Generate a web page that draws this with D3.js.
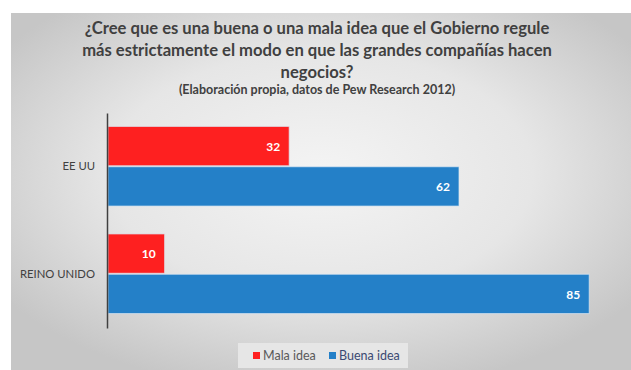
<!DOCTYPE html>
<html><head><meta charset="utf-8">
<script src="https://cdn.jsdelivr.net/npm/d3@7"></script>
<style>html,body{margin:0;padding:0;background:#fff;}svg{display:block;}</style>
</head><body>
<script>
const categories = ["EE UU", "REINO UNIDO"];
const seriesNames = ["Mala idea", "Buena idea"];
const malaIdea = [32, 10];
const buenaIdea = [62, 85];
const titleLines = ["¿Cree que es una buena o una mala idea que el Gobierno regule",
  "más estrictamente el modo en que las grandes compañías hacen", "negocios?"];
const subtitle = "(Elaboración propia, datos de Pew Research 2012)";
const colors = ["#fe2020", "#2480c8"];

const W = 631, H = 370;
const svg = d3.select("body").append("svg").attr("width", W).attr("height", H);
const defs = svg.append("defs");
const rg = defs.append("radialGradient").attr("id", "bg").attr("cx", "50%").attr("cy", "45%").attr("r", "62%");
rg.append("stop").attr("offset", "0%").attr("stop-color", "#f4f4f4");
rg.append("stop").attr("offset", "55%").attr("stop-color", "#e6e6e6");
rg.append("stop").attr("offset", "100%").attr("stop-color", "#c6c6c6");
svg.append("rect").attr("x", 11).attr("y", 13).attr("width", W - 11).attr("height", H - 13).attr("fill", "url(#bg)");

const font = "Lato, 'Open Sans', sans-serif";
const tg = svg.append("g").attr("font-family", font).attr("font-weight", "bold").attr("fill", "#404040").attr("text-anchor", "middle");
titleLines.forEach((t, i) => {
  tg.append("text").attr("x", 317).attr("y", 34 + i * 22).attr("font-size", 16.6).text(t);
});
tg.append("text").attr("x", 317).attr("y", 94).attr("font-size", 12.5).text(subtitle);

const x = d3.scaleLinear().domain([0, 90]).range([108, 617.5]);
const y = d3.scaleBand().domain(categories).range([113, 328]).paddingInner(0.25).paddingOuter(0.125);
const ys = d3.scaleBand().domain(seriesNames).range([0, y.bandwidth()]);

const data = [];
categories.forEach((c, i) => {
  data.push({cat: c, s: seriesNames[0], v: malaIdea[i], col: colors[0]});
  data.push({cat: c, s: seriesNames[1], v: buenaIdea[i], col: colors[1]});
});

const bars = svg.append("g");
bars.selectAll("rect").data(data).join("rect")
  .attr("x", x(0)).attr("y", d => y(d.cat) + ys(d.s))
  .attr("width", d => x(d.v) - x(0)).attr("height", ys.bandwidth() - 1)
  .attr("fill", d => d.col).attr("stroke", "#dde8f2").attr("stroke-opacity", 0.7).attr("stroke-width", 1);

bars.selectAll("text").data(data).join("text")
  .attr("x", d => x(d.v) - 9).attr("y", d => y(d.cat) + ys(d.s) + ys.bandwidth() / 2)
  .attr("dy", "0.35em").attr("text-anchor", "end")
  .attr("font-family", font).attr("font-weight", "bold").attr("font-size", 12).attr("fill", "#fff")
  .text(d => d.v);

const ax = svg.append("g").attr("transform", `translate(${x(0) - 1},0)`)
  .call(d3.axisLeft(y).tickSize(0).tickPadding(12));
ax.select(".domain").attr("stroke", "#404040").attr("stroke-width", 1.5);
ax.selectAll("text").attr("font-family", font).attr("font-size", 11.3).attr("fill", "#404040");

const lg = svg.append("g");
lg.append("rect").attr("x", 238).attr("y", 343).attr("width", 170).attr("height", 25).attr("fill", "#e6e6e6");
const lx = [253, 329];
seriesNames.forEach((s, i) => {
  lg.append("rect").attr("x", lx[i]).attr("y", 352).attr("width", 7).attr("height", 7).attr("fill", colors[i]);
  lg.append("text").attr("x", lx[i] + 10).attr("y", 355.5).attr("dy", "0.35em")
    .attr("font-family", font).attr("font-size", 12.5).attr("fill", i === 0 ? "#595959" : "#3b4a72").text(s);
});
</script>
</body></html>
